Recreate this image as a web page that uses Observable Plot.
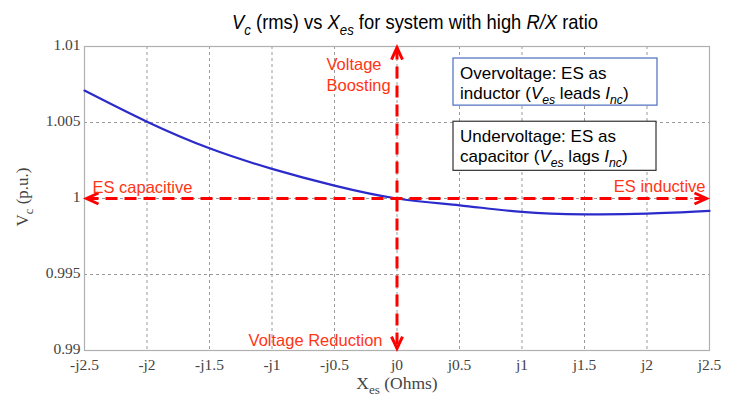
<!DOCTYPE html>
<html><head><meta charset="utf-8">
<script src="https://cdn.jsdelivr.net/npm/d3@7"></script>
<script src="https://cdn.jsdelivr.net/npm/@observablehq/plot@0.6"></script>
<style>
body{margin:0;background:#fff;}
#chart{position:relative;width:735px;height:398px;}
</style></head><body><div id="chart"></div>
<script>
// ---- data ----
const xes = [-2.5, -2, -1.5, -1, -0.5, 0, 0.5, 1, 1.5, 2, 2.5];
const vc  = [1.0071, 1.00505, 1.0033, 1.00195, 1.00085, 1.0, 0.99955, 0.99912, 0.99896, 0.99900, 0.99918];
const xTicks = [-2.5, -2, -1.5, -1, -0.5, 0, 0.5, 1, 1.5, 2, 2.5];
const xTickLabels = ["-j2.5","-j2","-j1.5","-j1","-j0.5","j0","j0.5","j1","j1.5","j2","j2.5"];
const yTicks = [0.99, 0.995, 1, 1.005, 1.01];
const yTickLabels = ["0.99","0.995","1","1.005","1.01"];

// annotation anchors (data coordinates)
const labelsStart = [
  {text: "Voltage\nBoosting", x: -0.564, y: 1.00818},
  {text: "ES capacitive", x: -2.436, y: 1.00083}
];
const labelsEnd = [
  {text: "ES inductive", x: 2.468, y: 1.00089},
  {text: "Voltage Reduction", x: -0.116, y: 0.99073}
];
const hArrow = [{x1: -2.484, x2: 2.476, y: 1}];
const vArrow = [{x: 0, y1: 0.99013, y2: 1.00993}];
const heads = [
  {x: -2.484, y: 1, dir: 180},
  {x: 2.476, y: 1, dir: 0},
  {x: 0, y: 1.00993, dir: -90},
  {x: 0, y: 0.99013, dir: 90}
];
const box1 = [{x1: 0.452, x2: 2.084, y1: 1.00611, y2: 1.00921}];
const box2 = [{x1: 0.452, x2: 2.076, y1: 1.00182, y2: 1.00505}];
const box1Lines = [
  [{t: "Overvoltage: ES as"}],
  [{t: "inductor ("}, {t: "V", i: 1}, {t: "es", i: 1, sub: 1}, {t: " leads "}, {t: "I", i: 1}, {t: "nc", i: 1, sub: 1}, {t: ")"}]
];
const box2Lines = [
  [{t: "Undervoltage: ES as"}],
  [{t: "capacitor ("}, {t: "V", i: 1}, {t: "es", i: 1, sub: 1}, {t: " lags "}, {t: "I", i: 1}, {t: "nc", i: 1, sub: 1}, {t: ")"}]
];
const titleParts = [{t: "V", i: 1}, {t: "c", i: 1, sub: 1}, {t: " (rms) vs "}, {t: "X", i: 1}, {t: "es", i: 1, sub: 1}, {t: " for system with high "}, {t: "R/X", i: 1}, {t: " ratio"}];
const yLabelParts = [{t: "V"}, {t: "c", sub: 1}, {t: " (p.u.)"}];
const xLabelParts = [{t: "X"}, {t: "es", sub: 1}, {t: " (Ohms)"}];

const data = xes.map((x, i) => ({x, v: vc[i]}));

const RED = "#ff0000", RED_TEXT = "#ff3516";
const SANS = "'Liberation Sans', Arial, sans-serif";
const SERIF = "'Liberation Serif', 'Times New Roman', serif";

const chevron = (deg) => ({
  draw(ctx, size) {
    const r = Math.sqrt(size / Math.PI), l = r * 1.2, w = r * 0.55;
    const a = deg * Math.PI / 180, c = Math.cos(a), s = Math.sin(a);
    const p = (x, y) => [x * c - y * s, x * s + y * c];
    const A = p(-l, -w), B = p(-l, w);
    ctx.moveTo(A[0], A[1]); ctx.lineTo(0, 0); ctx.lineTo(B[0], B[1]);
  }
});

const chart = Plot.plot({
  width: 735, height: 398,
  marginTop: 46, marginBottom: 48, marginLeft: 84, marginRight: 26,
  style: {fontFamily: SERIF, fontSize: "16px", color: "#444", background: "white"},
  x: {domain: [-2.5, 2.5], label: null},
  y: {domain: [0.99, 1.01], label: null},
  marks: [
    Plot.gridX(xTicks, {stroke: "#9a9a9a", strokeOpacity: 1, strokeDasharray: "3,3"}),
    Plot.gridY(yTicks, {stroke: "#9a9a9a", strokeOpacity: 1, strokeDasharray: "3,3"}),
    Plot.frame({stroke: "#b0b0b0", strokeWidth: 1.2}),
    Plot.axisX(xTicks, {tickSize: 0, tickPadding: 8, fontSize: 15.5, tickFormat: (d, i) => xTickLabels[i], label: null}),
    Plot.axisY(yTicks, {tickSize: 0, tickPadding: 4, fontSize: 15.5, dy: -1, tickFormat: (d, i) => yTickLabels[i], label: null}),
    Plot.rect(box1, {x1: "x1", x2: "x2", y1: "y1", y2: "y2", fill: "white", stroke: "#4a6cc0", strokeWidth: 1.2}),
    Plot.rect(box2, {x1: "x1", x2: "x2", y1: "y1", y2: "y2", fill: "white", stroke: "#333", strokeWidth: 1.2}),
    Plot.line(data, {x: "x", y: "v", stroke: "#2b2bcc", strokeWidth: 2.2, curve: "natural"}),
    Plot.link(hArrow, {x1: "x1", x2: "x2", y1: "y", y2: "y", stroke: RED, strokeWidth: 3, strokeDasharray: "12,7"}),
    Plot.link(vArrow, {x1: "x", x2: "x", y1: "y2", y2: "y1", stroke: RED, strokeWidth: 3, strokeDasharray: "12,7"}),
    ...heads.map(h => Plot.dot([h], {x: "x", y: "y", r: 10, symbol: chevron(h.dir), fill: "none", stroke: RED, strokeWidth: 3, strokeLinejoin: "miter"})),
    Plot.text(labelsStart, {x: "x", y: "y", text: "text", textAnchor: "start", fill: RED_TEXT, fontFamily: SANS, fontSize: 16.5, lineHeight: 1.27}),
    Plot.text(labelsEnd, {x: "x", y: "y", text: "text", textAnchor: "end", fill: RED_TEXT, fontFamily: SANS, fontSize: 16.5, lineHeight: 1.27})
  ]
});

document.getElementById("chart").appendChild(chart);
const svg = d3.select(chart);
const sx = chart.scale("x"), sy = chart.scale("y");

function rich(x, y, parts, {size, family, fill = "#000", anchor = "start", transform, subScale = 0.72}) {
  const t = svg.append("text").attr("x", x).attr("y", y)
    .attr("font-size", size).attr("font-family", family).attr("fill", fill).attr("text-anchor", anchor);
  if (transform) t.attr("transform", transform);
  const shift = size * 0.28; let down = false;
  for (const p of parts) {
    const s = t.append("tspan").text(p.t);
    if (p.i) s.attr("font-style", "italic");
    if (p.sub) {
      s.attr("font-size", size * subScale);
      if (!down) { s.attr("dy", shift); down = true; }
    } else if (down) { s.attr("dy", -shift); down = false; }
  }
  return t;
}

// title
rich(0, 0, titleParts, {size: 20, family: SANS, anchor: "middle", transform: "translate(415,29) scale(0.92,1)"});
// axis labels
rich(0, 0, yLabelParts, {size: 17, family: SERIF, fill: "#444", anchor: "middle", transform: "translate(28,197) rotate(-90)", subScale: 0.75});
rich(397, 389, xLabelParts, {size: 17.5, family: SERIF, fill: "#444", anchor: "middle", subScale: 0.75});
// box texts
[[box1, box1Lines], [box2, box2Lines]].forEach(([b, lines]) => {
  const left = sx.apply(b[0].x1), top = sy.apply(b[0].y2);
  lines.forEach((ln, k) => rich(left + 7, top + 21 + k * 20, ln, {size: 17, family: SANS}));
});
</script></body></html>
